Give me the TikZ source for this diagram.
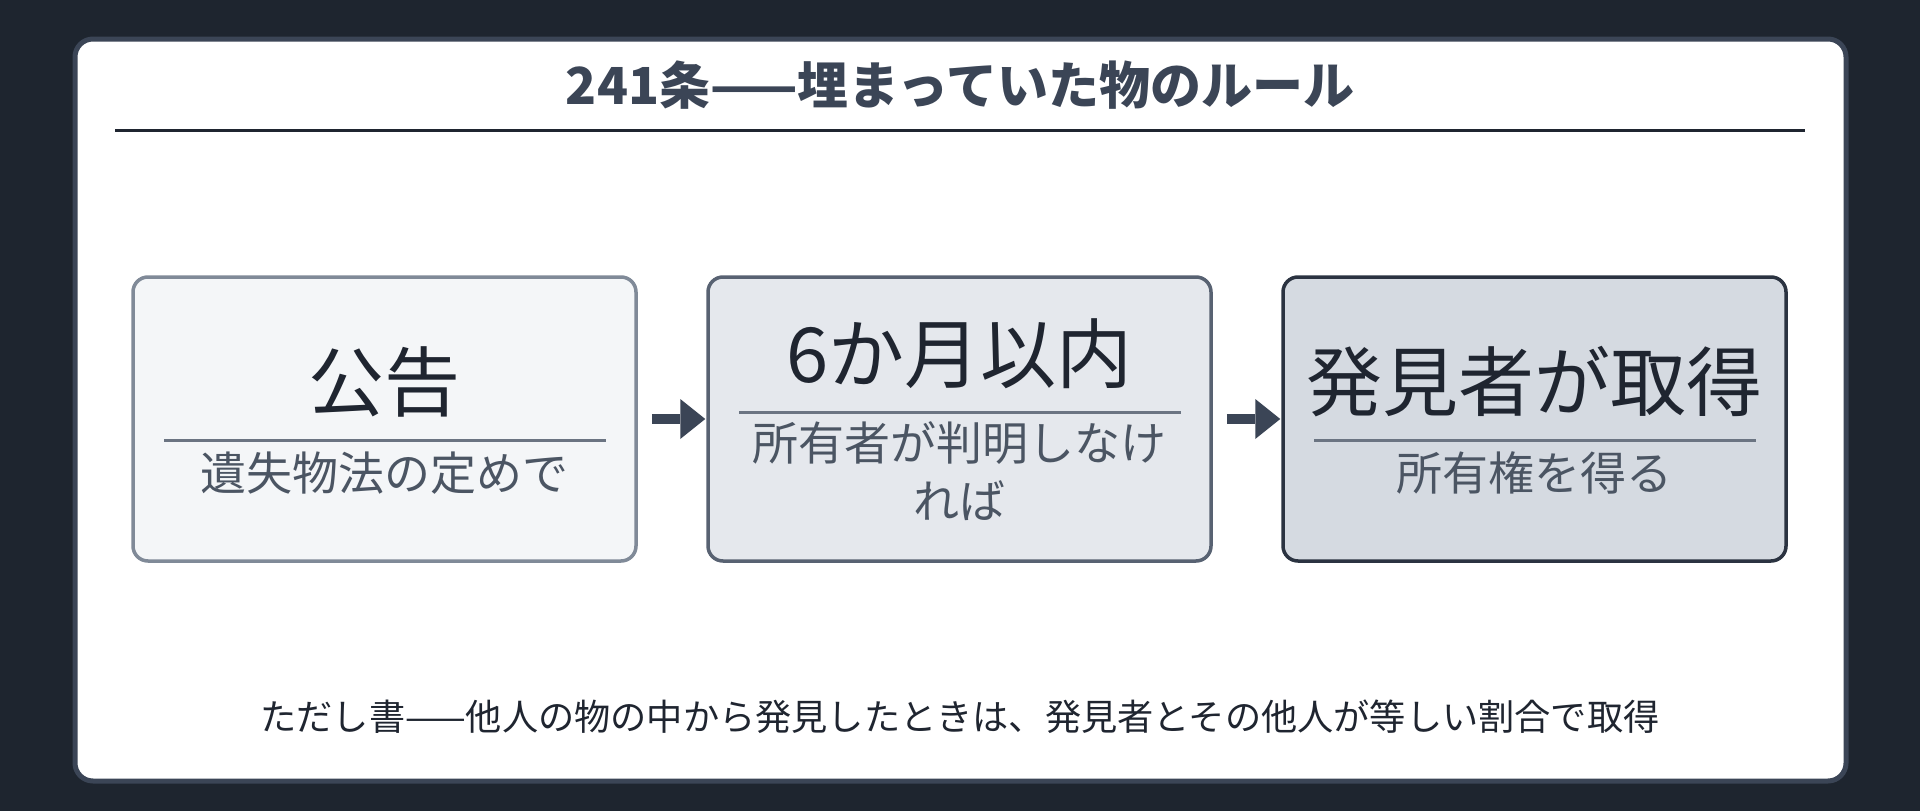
\documentclass[tikz,border=0pt]{standalone}
\usepackage{fontspec}
\setmainfont{Noto Sans CJK JP}
\usepackage{tikz}
\usetikzlibrary{shapes, arrows.meta, positioning}

\definecolor{bgcol}{HTML}{1E252F}
\definecolor{cardline}{HTML}{3B4556}
\definecolor{inkcol}{HTML}{1F2530}
\definecolor{subcol}{HTML}{4B5563}
\definecolor{rulecol}{HTML}{6B7482}
\definecolor{fillA}{HTML}{F4F6F8}
\definecolor{lineA}{HTML}{808A98}
\definecolor{fillB}{HTML}{E5E8ED}
\definecolor{lineB}{HTML}{586272}
\definecolor{fillC}{HTML}{D5DAE1}
\definecolor{lineC}{HTML}{2B3341}

\begin{document}
\begin{tikzpicture}[x=1pt, y=-1pt,
  node distance = 575pt,
  stage/.style={rectangle, rounded corners=15pt, line width=3.5pt, minimum width=503pt, minimum height=284pt, inner sep=0pt},
  head/.style={text=inkcol, font=\fontsize{76}{80}\selectfont, text height=67pt, text depth=9pt, inner sep=0pt},
  sub/.style={text=subcol, font=\fontsize{46}{58}\selectfont, inner sep=0pt},
  divide/.style={fill=rulecol, minimum width=442pt, minimum height=2.5pt, inner sep=0pt}]

  \fill[bgcol] (0,0) rectangle (1920,811);
  \draw[cardline, fill=white, line width=5pt, rounded corners=18pt] (75,39) rectangle (1846,781);

  \node[text=cardline, font=\bfseries\fontsize{51}{56}\selectfont, text height=45pt, text depth=6pt, inner sep=0pt] (T) at (960,85) {241条——埋まっていた物のルール};
  \draw[inkcol, line width=3pt] (115,130) -- (1805,130);

  \node[stage, draw=lineA, fill=fillA] (A) at (384.5,419) {};
  \node[stage, draw=lineB, fill=fillB] (B) [right of=A] {};
  \node[stage, draw=lineC, fill=fillC] (C) [right of=B] {};

  \node[head] (a1) [above of=A, node distance=37.5pt] {公告};
  \node[divide] (a2) [below of=A, node distance=21.7pt] {};
  \node[sub, text height=40.5pt, text depth=5.5pt] (a3) [below of=A, node distance=53.5pt] {遺失物法の定めで};

  \node[head] (b1) [above of=B, node distance=66pt] {6か月以内};
  \node[divide] (b2) [above of=B, node distance=6.3pt] {};
  \node[sub, align=center] (b3) [below of=B, node distance=52pt] {所有者が判明しなけ\\れば};

  \node[head] (c1) [above of=C, node distance=37.5pt] {発見者が取得};
  \node[divide] (c2) [below of=C, node distance=21.7pt] {};
  \node[sub, text height=40.5pt, text depth=5.5pt] (c3) [below of=C, node distance=53.5pt] {所有権を得る};

  \path[->, >={Triangle[length=25pt, width=40pt, line width=0pt]}, line width=10pt, color=cardline]
    (A) edge[shorten <=14pt, shorten >=1pt] (B)
    (B) edge[shorten <=14pt, shorten >=1pt] (C);

  \node[text=inkcol, font=\fontsize{36.2}{40}\selectfont, text height=31.9pt, text depth=4.3pt, inner sep=0pt] (N) at (960,716.5) {ただし書——他人の物の中から発見したときは、発見者とその他人が等しい割合で取得};
\end{tikzpicture}
\end{document}
